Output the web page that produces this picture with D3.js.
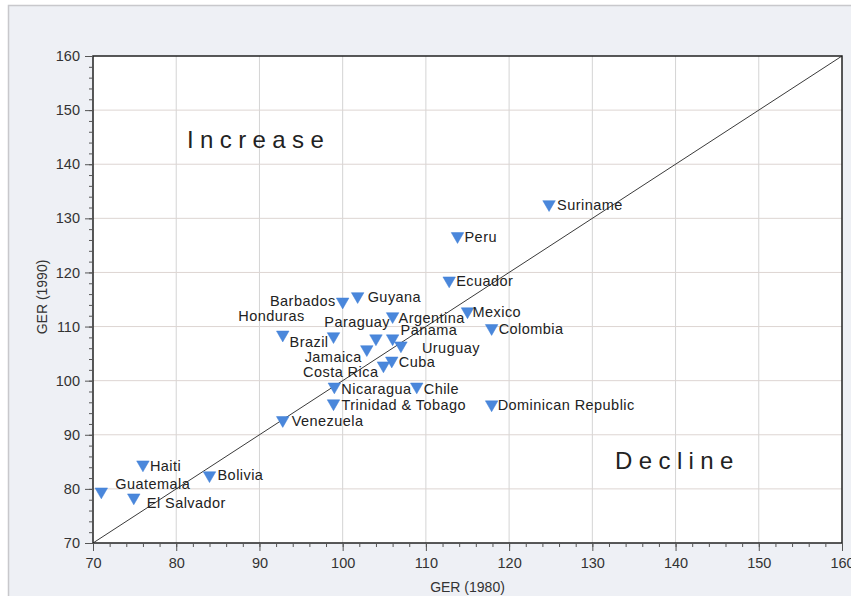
<!DOCTYPE html>
<html>
<head>
<meta charset="utf-8">
<script src="https://cdn.jsdelivr.net/npm/d3@7"></script>
<style>
  html, body { margin: 0; padding: 0; background: #fff; }
  svg { display: block; }
  text { font-family: "Liberation Sans", Arial, sans-serif; }
</style>
</head>
<body>
<svg id="chart" width="851" height="596"></svg>
<script>
// ---- data ----
const countries = ["Suriname","Peru","Ecuador","Guyana","Barbados","Mexico","Colombia","Argentina","Honduras","Brazil",
  "Paraguay","Panama","Uruguay","Jamaica","Cuba","Costa Rica","Nicaragua","Chile","Trinidad & Tobago","Dominican Republic",
  "Venezuela","Haiti","Bolivia","Guatemala","El Salvador"];
const ger1980 = [124.8,113.8,112.8,101.8,100,115,117.9,106,92.8,98.9, 104,106,107,102.9,105.9,104.9, 99,108.9,98.9,117.9, 92.8,76,84,71,74.9];
const ger1990 = [132.6,126.7,118.5,115.6,114.6,112.8,109.7,111.9,108.5,108.2, 107.8,107.8,106.5,105.8,103.7,102.8, 98.9,98.9,95.8,95.6, 92.7,84.5,82.5,79.5,78.4];
const xTicks = [70,80,90,100,110,120,130,140,150,160];
const yTicks = [70,80,90,100,110,120,130,140,150,160];
const xTitle = "GER (1980)";
const yTitle = "GER (1990)";
const regionLabels = ["Increase","Decline"];

// ---- label placement (layout, not data): [dx, dy, anchor] ----
const labelPlace = {
  "Suriname":[8,6,"start"], "Peru":[7,6,"start"], "Ecuador":[7,5,"start"], "Guyana":[10,6,"start"],
  "Barbados":[-7,4,"end"], "Mexico":[5,6,"start"], "Colombia":[7,6,"start"], "Argentina":[6,7,"start"],
  "Honduras":[22,-14,"end"], "Brazil":[-5,11,"end"], "Paraguay":[14,-11,"end"], "Panama":[8,-3,"start"],
  "Uruguay":[21,8,"start"], "Jamaica":[-5,13,"end"], "Cuba":[7,6,"start"], "Costa Rica":[-5,11,"end"],
  "Nicaragua":[7,7,"start"], "Chile":[7,7,"start"], "Trinidad & Tobago":[8,7,"start"], "Dominican Republic":[6,6,"start"],
  "Venezuela":[9,6,"start"], "Haiti":[7,6,"start"], "Bolivia":[8,5,"start"], "Guatemala":[14,-3,"start"],
  "El Salvador":[13,10,"start"]
};

const svg = d3.select("#chart");
const W = 851, H = 596;
const m = {left: 93, top: 56, right: 842, bottom: 543};

// page background / frame
svg.append("rect").attr("x",0).attr("y",0).attr("width",W).attr("height",H).attr("fill","#fff");
svg.append("rect").attr("x",8.5).attr("y",5.5).attr("width",W).attr("height",H)
  .attr("fill","#eef0f5").attr("stroke","#c8c8cc").attr("stroke-width",1.5);

const x = d3.scaleLinear().domain([70,160]).range([m.left, m.right]);
const y = d3.scaleLinear().domain([70,160]).range([m.bottom, m.top]);

// plot area
svg.append("rect").attr("x",m.left).attr("y",m.top).attr("width",m.right-m.left).attr("height",m.bottom-m.top)
  .attr("fill","#fff");

// grid
const grid = svg.append("g");
grid.selectAll("line.gx").data(xTicks.slice(1,-1)).join("line")
  .attr("x1",d=>x(d)).attr("x2",d=>x(d)).attr("y1",m.top).attr("y2",m.bottom)
  .attr("stroke","#d4d4d4").attr("stroke-width",1);
grid.selectAll("line.gy").data(yTicks.slice(1,-1)).join("line")
  .attr("y1",d=>y(d)).attr("y2",d=>y(d)).attr("x1",m.left).attr("x2",m.right)
  .attr("stroke","#ddd5d2").attr("stroke-width",1);

// diagonal
svg.append("line").attr("x1",x(70)).attr("y1",y(70)).attr("x2",x(160)).attr("y2",y(160))
  .attr("stroke","#3a3a3a").attr("stroke-width",1);

// frame of plot
svg.append("rect").attr("x",m.left).attr("y",m.top).attr("width",m.right-m.left).attr("height",m.bottom-m.top)
  .attr("fill","none").attr("stroke","#222").attr("stroke-width",1.5);

// axes
const minor = d3.range(70,161,2);
const xAxisMinor = d3.axisBottom(x).tickValues(minor).tickSize(4).tickFormat("");
const yAxisMinor = d3.axisLeft(y).tickValues(minor).tickSize(4).tickFormat("");
svg.append("g").attr("transform",`translate(0,${m.bottom})`).call(xAxisMinor)
  .call(g=>{g.select(".domain").remove(); g.selectAll("line").attr("stroke","#555");});
svg.append("g").attr("transform",`translate(${m.left},0)`).call(yAxisMinor)
  .call(g=>{g.select(".domain").remove(); g.selectAll("line").attr("stroke","#555");});

const styleTicks = g => {
  g.select(".domain").remove();
  g.selectAll("line").attr("stroke","#555");
  g.selectAll("text").attr("font-size",14.5).attr("fill","#333")
    .attr("font-family","Liberation Sans, Arial, sans-serif");
};
const xAxis = d3.axisBottom(x).tickValues(xTicks).tickSize(8).tickPadding(7).tickFormat(d3.format("d"));
const yAxis = d3.axisLeft(y).tickValues(yTicks).tickSize(8).tickPadding(5).tickFormat(d3.format("d"));
svg.append("g").attr("transform",`translate(0,${m.bottom})`).call(xAxis).call(styleTicks);
svg.append("g").attr("transform",`translate(${m.left},0)`).call(yAxis).call(styleTicks);

// axis titles
svg.append("text").attr("x",(m.left+m.right)/2).attr("y",592).attr("text-anchor","middle")
  .attr("font-size",14).attr("fill","#333").text(xTitle);
svg.append("text").attr("transform",`translate(47,297) rotate(-90)`).attr("text-anchor","middle")
  .attr("font-size",14).attr("fill","#333").text(yTitle);

// region labels
const regionStyle = s => s.attr("font-size",24).attr("letter-spacing",6.4)
  .attr("font-family","DejaVu Sans, sans-serif").attr("font-weight",200).attr("fill","#222");
svg.append("text").attr("x",187).attr("y",148).call(regionStyle).text(regionLabels[0]);
svg.append("text").attr("x",615).attr("y",469).call(regionStyle).text(regionLabels[1]);

// points
const pts = countries.map((c,i)=>({name:c, x:ger1980[i], y:ger1990[i]}));
const tri = d3.symbol().type(d3.symbolTriangle).size(68);
svg.append("g").selectAll("path").data(pts).join("path")
  .attr("d", tri)
  .attr("transform", d=>`translate(${x(d.x)},${y(d.y)}) rotate(180)`)
  .attr("fill","#4a87db").attr("stroke","#3f7fd6").attr("stroke-width",0.5);

svg.append("g").selectAll("text").data(pts).join("text")
  .attr("x", d=>x(d.x)+labelPlace[d.name][0])
  .attr("y", d=>y(d.y)+labelPlace[d.name][1])
  .attr("text-anchor", d=>labelPlace[d.name][2])
  .attr("font-size",14.5).attr("letter-spacing",0.45).attr("fill","#222")
  .text(d=>d.name);
</script>
</body>
</html>
